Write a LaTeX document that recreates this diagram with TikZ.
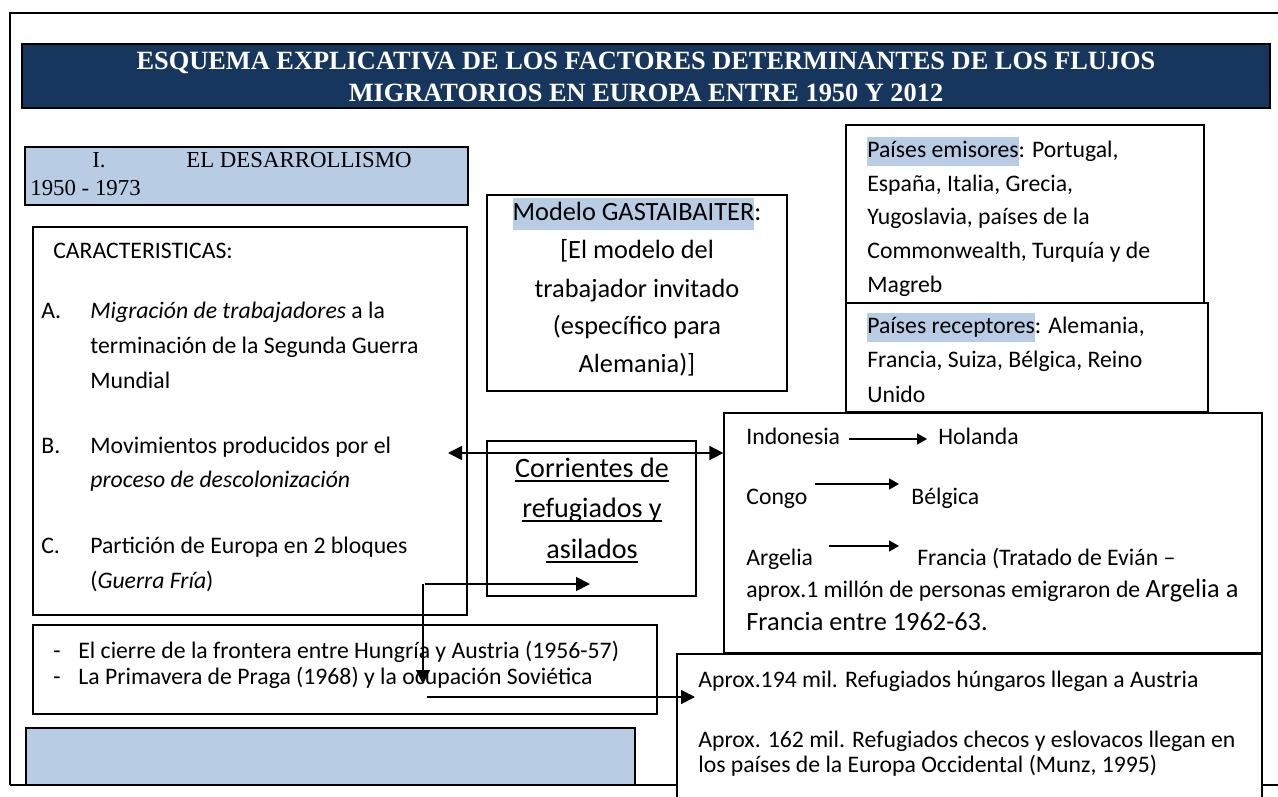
\documentclass[tikz,border=0pt]{standalone}
\usepackage{fontspec}
\setmainfont{Carlito}
\newfontfamily\timesfont{Liberation Serif}
\usetikzlibrary{arrows.meta}
\definecolor{titleblue}{HTML}{17365D}
\definecolor{markblue}{HTML}{B8CCE4}
\newcommand{\resalte}[1]{{\setlength{\fboxsep}{0pt}\colorbox{markblue}{\strut #1}}}
\newsavebox{\subcaja}
\newcommand{\subrayado}[1]{\sbox{\subcaja}{#1}\rlap{\rule[-2.6pt]{\wd\subcaja}{0.8pt}}\usebox{\subcaja}}
\tikzset{flecha/.style={-{Triangle[length=2.8mm,width=2.8mm]},line width=1pt},
	flechaDoble/.style={{Triangle[length=2.8mm,width=2.8mm]}-{Triangle[length=2.8mm,width=2.8mm]},line width=1pt},
	flechita/.style={-{Triangle[length=2mm,width=2.2mm]},line width=1pt}}
\tikzstyle{caja}=[rectangle,draw=black!100,fill=white,line width=0.8pt,inner sep=0pt]
\tikzstyle{cajaAzul}=[rectangle,draw=black!100,fill=markblue,line width=1.2pt,inner sep=0pt]
\tikzstyle{cajaTitulo}=[rectangle,draw=black!100,fill=titleblue,line width=1.5pt,inner sep=0pt]
\tikzstyle{texto}=[anchor=west,inner sep=0pt,text height=1.5ex,text depth=.25ex,font=\fontsize{13.5}{16.5}\selectfont]
\tikzstyle{textoCentro}=[anchor=center,inner sep=0pt,text height=1.5ex,text depth=.25ex,font=\fontsize{15}{18}\selectfont]
\tikzstyle{textoSerif}=[anchor=west,inner sep=0pt,text height=1.5ex,text depth=.25ex,font=\timesfont\fontsize{13}{16}\selectfont]
\tikzstyle{titulo}=[align=center,text=white,inner sep=0pt,font=\timesfont\bfseries\fontsize{15}{18}\selectfont]

\begin{document}
\begin{tikzpicture}[x=0.02cm,y=-0.02cm]
		\useasboundingbox (0,0) rectangle (1278,797);
		% marco
		\draw [line width=1.4pt] (10,785) -- (10,13) -- (1278,13);
		\draw [line width=1.2pt] (10,785) -- (1278,785);
		% cajas
		\node at (646,76) [cajaTitulo,minimum width=24.96cm,minimum height=1.28cm] (1) {};
		\node at (246.5,176) [cajaAzul,minimum width=8.86cm,minimum height=1.16cm] (2) {};
		\node at (250,421) [caja,minimum width=8.68cm,minimum height=7.76cm] (3) {};
		\node at (637,293) [caja,minimum width=6cm,minimum height=3.92cm] (4) {};
		\node at (1025,214) [caja,minimum width=7.16cm,minimum height=3.56cm] (5) {};
		\node at (1027,357.5) [caja,minimum width=7.24cm,minimum height=2.18cm] (6) {};
		\node at (993,533) [caja,minimum width=10.76cm,minimum height=4.8cm] (7) {};
		\node at (591.5,518.5) [caja,minimum width=4.18cm,minimum height=3.1cm] (8) {};
		\node at (345,669.5) [caja,minimum width=12.48cm,minimum height=1.78cm] (9) {};
		\node at (330.5,756.5) [cajaAzul,minimum width=12.18cm,minimum height=1.14cm] (10) {};
		\node at (969.5,737) [caja,minimum width=11.7cm,minimum height=3.32cm] (11) {};
		% titulo
		\node at (646,77) [titulo] (12) {ESQUEMA EXPLICATIVA DE LOS FACTORES DETERMINANTES DE LOS FLUJOS\\MIGRATORIOS EN EUROPA ENTRE 1950 Y 2012};
		\node at (92,162) [textoSerif] (13) {I.};
		\node at (186,162) [textoSerif] (14) {EL DESARROLLISMO};
		\node at (30,190) [textoSerif] (15) {1950 - 1973};
		% caracteristicas
		\node at (53,253) [texto] (16) {CARACTERISTICAS:};
		\node at (41,313) [texto] (17) {A.};
		\node at (90,313) [texto] (18) {\textit{Migración de trabajadores} a la};
		\node at (90,348) [texto] (19) {terminación de la Segunda Guerra};
		\node at (90,383) [texto] (20) {Mundial};
		\node at (41,448) [texto] (21) {B.};
		\node at (90,448) [texto] (22) {Movimientos producidos por el};
		\node at (90,482) [texto] (23) {\textit{proceso de descolonización}};
		\node at (41,548) [texto] (24) {C.};
		\node at (90,548) [texto] (25) {Partición de Europa en 2 bloques};
		\node at (90,583) [texto] (26) {(\textit{Guerra Fría})};
		% modelo
		\node at (637,215) [textoCentro] (27) {\resalte{Modelo GASTAIBAITER}:};
		\node at (637,253) [textoCentro] (28) {[El modelo del};
		\node at (637,292) [textoCentro] (29) {trabajador invitado};
		\node at (637,329) [textoCentro] (30) {(específico para};
		\node at (637,367) [textoCentro] (31) {Alemania)]};
		% corrientes
		\node at (592,472) [textoCentro,font=\fontsize{16}{19}\selectfont] (32) {\subrayado{Corrientes de}};
		\node at (592,512) [textoCentro,font=\fontsize{16}{19}\selectfont] (33) {\subrayado{refugiados y}};
		\node at (592,553) [textoCentro,font=\fontsize{16}{19}\selectfont] (34) {\subrayado{asilados}};
		% paises
		\node at (867,152) [texto] (35) {\resalte{Países emisores}: Portugal,};
		\node at (867,186) [texto] (36) {España, Italia, Grecia,};
		\node at (867,219) [texto] (37) {Yugoslavia, países de la};
		\node at (867,253) [texto] (38) {Commonwealth, Turquía y de};
		\node at (867,287) [texto] (39) {Magreb};
		\node at (867,328) [texto] (40) {\resalte{Países receptores}: Alemania,};
		\node at (867,362) [texto] (41) {Francia, Suiza, Bélgica, Reino};
		\node at (867,397) [texto] (42) {Unido};
		% descolonizacion
		\node at (746,439) [texto] (43) {Indonesia};
		\node at (938,439) [texto] (44) {Holanda};
		\node at (746,499) [texto] (45) {Congo};
		\node at (911,499) [texto] (46) {Bélgica};
		\node at (746,560) [texto] (47) {Argelia};
		\node at (917,560) [texto] (48) {Francia (Tratado de Evián --};
		\node at (746,592) [texto] (49) {aprox.1 millón de personas emigraron de {\fontsize{15}{18}\selectfont Argelia a}};
		\node at (746,625) [texto,font=\fontsize{15}{18}\selectfont] (50) {Francia entre 1962-63.};
		% guerra fria
		\node at (53,653) [texto] (51) {-};
		\node at (78,653) [texto] (52) {El cierre de la frontera entre Hungría y Austria (1956-57)};
		\node at (53,679) [texto] (53) {-};
		\node at (78,679) [texto] (54) {La Primavera de Praga (1968) y la ocupación Soviética};
		\node at (698,682) [texto] (55) {Aprox.194 mil. Refugiados húngaros llegan a Austria};
		\node at (698,742) [texto] (56) {Aprox. 162 mil. Refugiados checos y eslovacos llegan en};
		\node at (698,767) [texto] (57) {los países de la Europa Occidental (Munz, 1995)};
		% flechas
		\coordinate (a1) at (448,453);
		\coordinate (a2) at (425,584);
		\coordinate (a3) at (590,584);
		\coordinate (a4) at (423,684);
		\coordinate (a5) at (427,697);
		\coordinate (a6) at (695,697);
		\draw [flechaDoble] (a1) -- (a1 -| 7.west);
		\draw [flecha] (a2) -- (a3);
		\draw [flecha] (a2 -| a4) -- (a4);
		\draw [flecha] (a5) -- (a6);
		\draw [flechita] ([xshift=0.18cm]43.east) -- ([xshift=-0.22cm]44.west);
		\draw [flechita] ([xshift=0.14cm,yshift=0.3cm]45.east) -- ([xshift=-0.24cm,yshift=0.3cm]46.west);
		\draw [flechita] ([xshift=0.32cm,yshift=0.28cm]47.east) -- ([xshift=-0.36cm,yshift=0.28cm]48.west);
		\end{tikzpicture}
\end{document}
